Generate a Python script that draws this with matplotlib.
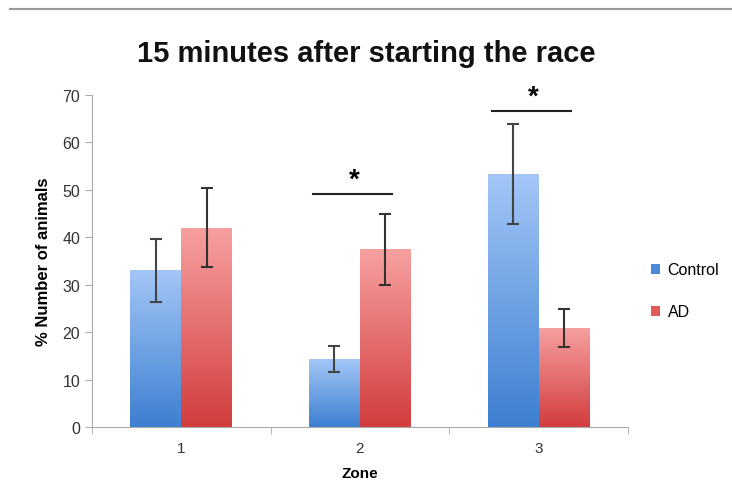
import matplotlib
matplotlib.use("Agg")
import matplotlib.pyplot as plt
import numpy as np
from matplotlib.colors import LinearSegmentedColormap

zones = ["1", "2", "3"]
control = [33.0, 14.3, 53.3]
control_err = [6.7, 2.7, 10.6]
ad = [42.0, 37.5, 20.9]
ad_err = [8.3, 7.5, 4.0]

plt.rcParams['font.family'] = ['Liberation Sans', 'DejaVu Sans']

fig = plt.figure(figsize=(7.32, 4.89), dpi=100)
ax = fig.add_axes([0.1257, 0.1247, 0.732, 0.679])

x = np.arange(1, len(zones) + 1)
w = 0.285
blue_cmap = LinearSegmentedColormap.from_list("b", ["#3d7fd1", "#a3c6f6"])
red_cmap = LinearSegmentedColormap.from_list("r", ["#d23d3d", "#f7a0a0"])
grad = np.linspace(0, 1, 256).reshape(-1, 1)

def gradient_bars(xs, vals, cmap, label, color):
    bars = ax.bar(xs, vals, w, color=color, label=label, zorder=1)
    for b in bars:
        x0, y0 = b.get_x(), b.get_y()
        im = ax.imshow(grad, cmap=cmap, origin="lower", aspect="auto",
                       extent=[x0, x0 + b.get_width(), y0, y0 + b.get_height()],
                       zorder=2)
        im.set_clip_path(b)
    return bars

gradient_bars(x - w / 2, control, blue_cmap, "Control", "#4a8ad8")
gradient_bars(x + w / 2, ad, red_cmap, "AD", "#e05a5a")
ax.errorbar(x - w / 2, control, yerr=control_err, fmt="none", ecolor="#444444",
            elinewidth=1.5, capsize=4, capthick=1.5, zorder=3)
ax.errorbar(x + w / 2, ad, yerr=ad_err, fmt="none", ecolor="#333333",
            elinewidth=1.5, capsize=4, capthick=1.5, zorder=3)

# significance marks
for xc, yl in [(2, 49.2), (3, 66.7)]:
    ax.plot([xc - 0.26, xc + 0.18], [yl, yl], color="#222222", lw=1.5, clip_on=False)
    ax.text(xc - 0.03, yl + 0.3, "*", ha="center", va="bottom", fontsize=20,
            fontweight="bold", clip_on=False)

ax.set_xlim(0.5, 3.5)
ax.set_ylim(0, 70)
ax.set_yticks(range(0, 71, 10))
ax.set_xticks(x)
ax.set_xticks([0.5, 1.5, 2.5, 3.5], minor=True)
ax.set_xticklabels(zones)
ax.tick_params(axis="x", which="major", length=0, pad=10, labelsize=11, labelcolor="#333333")
ax.tick_params(axis="x", which="minor", length=5, color="#aaaaaa", direction="out")
ax.tick_params(axis="y", length=5, color="#aaaaaa", labelsize=11.5, labelcolor="#333333")
for s in ["top", "right"]:
    ax.spines[s].set_visible(False)
for s in ["left", "bottom"]:
    ax.spines[s].set_color("#aaaaaa")

ax.set_xlabel("Zone", fontweight="bold", fontsize=11, labelpad=8)
ax.set_ylabel("% Number of animals", fontweight="bold", fontsize=12, labelpad=8)
fig.text(0.5, 0.89, "15 minutes after starting the race", ha="center", va="center",
         fontsize=21, fontweight="bold", color="#111111")

fig.add_artist(plt.Line2D([0.013, 1.0], [0.98, 0.98], color="#999999", lw=1.5))

ax.legend(loc="center left", bbox_to_anchor=(1.025, 0.41), frameon=False, fontsize=11.5,
          handlelength=0.6, handleheight=0.6, handletextpad=0.45, labelspacing=1.7,
          borderaxespad=0.2)

fig.savefig("out.png", dpi=100)
